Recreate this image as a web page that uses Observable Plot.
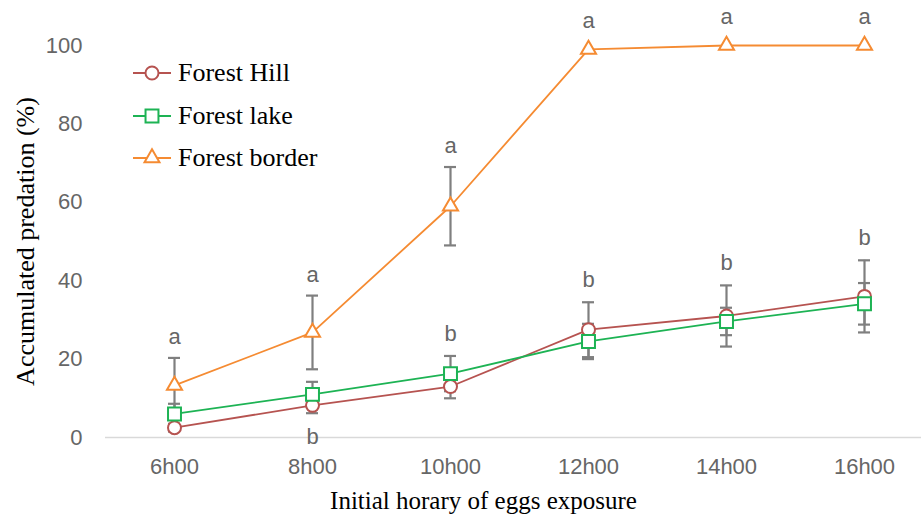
<!DOCTYPE html>
<html>
<head>
<meta charset="utf-8">
<script src="https://cdn.jsdelivr.net/npm/d3@7"></script>
<script src="https://cdn.jsdelivr.net/npm/@observablehq/plot@0.6"></script>
<style>
  html, body { margin: 0; padding: 0; background: #fff; }
  #wrap { position: relative; width: 921px; height: 522px; }
  #chart svg [aria-label="y-axis label"] text { font-family: "Liberation Serif", serif; font-size: 26px; fill: #000; }
  #legend { position: absolute; left: 133px; top: 52px; font-family: "Liberation Serif", serif; font-size: 26px; color: #000; }
  #legend .item { display: flex; align-items: center; height: 42.5px; }
  #legend svg { margin-right: 7px; }
</style>
</head>
<body>
<div id="wrap"><div id="chart"></div><div id="legend"></div></div>
<script>
const hours = ["6h00", "8h00", "10h00", "12h00", "14h00", "16h00"];
const seriesNames = ["Forest Hill", "Forest lake", "Forest border"];
const seriesColors = ["#B65350", "#1DB354", "#F58B32"];
const seriesSymbols = ["circle", "square", "triangle"];

const hillMean = [2.5, 8.2, 13.0, 27.5, 31.0, 36.0];
const hillErr = [1.0, 2.0, 3.0, 7.0, 7.8, 9.2];
const lakeMean = [6.0, 11.0, 16.3, 24.5, 29.6, 34.1];
const lakeErr = [2.6, 3.2, 4.5, 4.5, 3.5, 5.3];
const borderMean = [13.3, 26.8, 59.0, 99.0, 100.0, 100.0];
const borderErr = [7.0, 9.4, 10.0, 0, 0, 0];

const lettersBorder = ["a", "a", "a", "a", "a", "a"];
const lettersOthers = ["", "b", "b", "b", "b", "b"];
const lettersOthersSide = ["", "below", "above", "above", "above", "above"];

const yTicks = [0, 20, 40, 60, 80, 100];
const xTitle = "Initial horary of eggs exposure";
const yTitle = "Accumulated predation (%)";

const means = [hillMean, lakeMean, borderMean];
const errs = [hillErr, lakeErr, borderErr];
const rows = [];
seriesNames.forEach((s, si) => hours.forEach((h, i) => rows.push({hour: h, series: s, mean: means[si][i], err: errs[si][i]})));
const errRows = rows.filter(d => d.err > 0);

const aRows = hours.map((h, i) => ({hour: h, label: lettersBorder[i], y: borderMean[i] + Math.max(borderErr[i], 2)}));
const bRows = hours.map((h, i) => ({
  hour: h, label: lettersOthers[i], side: lettersOthersSide[i],
  y: lettersOthersSide[i] === "below"
    ? Math.min(hillMean[i] - hillErr[i], lakeMean[i] - lakeErr[i])
    : Math.max(hillMean[i] + hillErr[i], lakeMean[i] + lakeErr[i])
})).filter(d => d.label);

const errColor = "#7F7F7F";
const textGray = "#666666";

const chart = Plot.plot({
  width: 921, height: 522,
  marginLeft: 105, marginRight: 0, marginTop: 45, marginBottom: 85,
  style: {fontFamily: "Liberation Sans, Arial, sans-serif", fontSize: "22px", color: textGray, background: "#fff"},
  x: {type: "point", domain: hours, range: [174, 864], padding: 0},
  y: {domain: [0, 100]},
  color: {domain: seriesNames, range: seriesColors},
  symbol: {domain: seriesNames, range: seriesSymbols},
  marks: [
    Plot.ruleY([0], {stroke: "#D9D9D9", strokeWidth: 1.5}),
    Plot.axisY({ticks: yTicks, tickSize: 0, tickPadding: 23, label: yTitle, labelAnchor: "center", labelOffset: 90, labelArrow: false, fill: textGray}),
    Plot.axisX({tickSize: 0, tickPadding: 21, label: null, fill: textGray}),
    Plot.ruleX(errRows, {x: "hour", y1: d => d.mean - d.err, y2: d => d.mean + d.err, stroke: errColor, strokeWidth: 2.2}),
    Plot.ruleY(errRows, {x1: "hour", x2: "hour", y: d => d.mean + d.err, stroke: errColor, strokeWidth: 2.2, insetLeft: -6, insetRight: -6}),
    Plot.ruleY(errRows, {x1: "hour", x2: "hour", y: d => d.mean - d.err, stroke: errColor, strokeWidth: 2.2, insetLeft: -6, insetRight: -6}),
    Plot.line(rows, {x: "hour", y: "mean", z: "series", stroke: "series", strokeWidth: 1.8}),
    Plot.dot(rows.filter(d => d.series === seriesNames[0]), {x: "hour", y: "mean", symbol: "series", stroke: "series", fill: "white", r: 6.5, strokeWidth: 2}),
    Plot.dot(rows.filter(d => d.series === seriesNames[1]), {x: "hour", y: "mean", symbol: "series", stroke: "series", fill: "white", r: 7.3, strokeWidth: 2}),
    Plot.dot(rows.filter(d => d.series === seriesNames[2]), {x: "hour", y: "mean", symbol: "series", stroke: "series", fill: "white", r: 5.6, strokeWidth: 2}),
    Plot.text(aRows, {x: "hour", y: "y", text: "label", dy: -21, fill: textGray, fontSize: 22}),
    Plot.text(bRows.filter(d => d.side === "above"), {x: "hour", y: "y", text: "label", dy: -22, fill: textGray, fontSize: 22}),
    Plot.text(bRows.filter(d => d.side === "below"), {x: "hour", y: "y", text: "label", dy: 24, fill: textGray, fontSize: 22}),
    Plot.text([xTitle], {frameAnchor: "bottom", text: d => d, dx: -30, dy: 71, fill: "#000", fontSize: 25, fontFamily: "Liberation Serif, serif"})
  ]
});
document.getElementById("chart").appendChild(chart);

const legendSymbols = [d3.symbolCircle, d3.symbolSquare, d3.symbolTriangle];
const legendSizes = [133, 167, 97];
const legend = document.getElementById("legend");
seriesNames.forEach((s, i) => {
  const item = document.createElement("div");
  item.className = "item";
  const sym = d3.symbol(legendSymbols[i], legendSizes[i])();
  item.innerHTML = `<svg width="38" height="24"><line x1="0" x2="38" y1="12" y2="12" stroke="${seriesColors[i]}" stroke-width="2"/><path d="${sym}" transform="translate(19,12)" fill="white" stroke="${seriesColors[i]}" stroke-width="2"/></svg><span>${s}</span>`;
  legend.appendChild(item);
});
</script>
</body>
</html>
